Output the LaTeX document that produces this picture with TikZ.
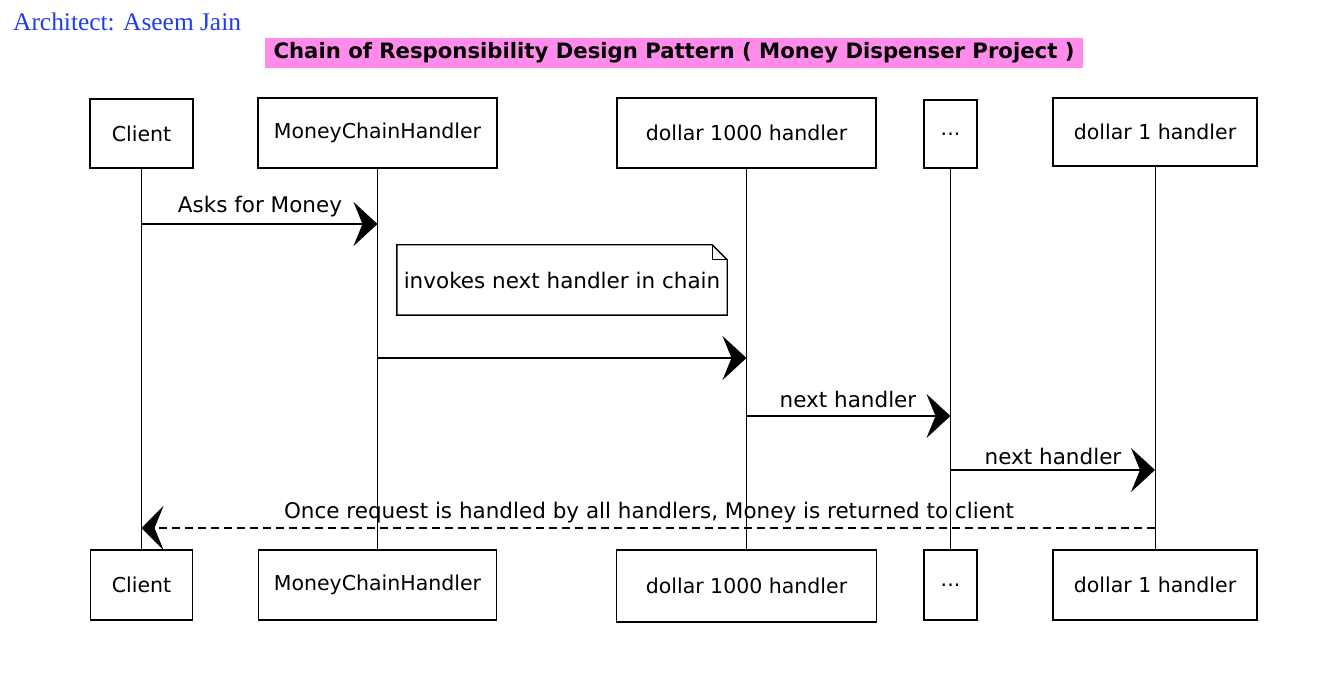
\documentclass[tikz,border=0pt]{standalone}
\usepackage{fontspec}
\setmainfont{DejaVu Sans}
\newfontfamily\archfont{Liberation Serif}
\usetikzlibrary{arrows.meta,calc}
\definecolor{archblue}{RGB}{30,60,240}
\definecolor{titlepink}{RGB}{255,140,235}
\begin{document}
\begin{tikzpicture}[x=1pt,y=-1pt,
  part/.style={draw, line width=1.4pt, inner sep=0pt, font=\fontsize{20.5}{24}\selectfont},
  life/.style={line width=1pt},
  msg/.style={line width=1.5pt, -{Stealth[length=24pt,width=44pt,inset=9pt]}},
  ret/.style={line width=1.5pt, dash pattern=on 8pt off 5pt, -{Stealth[length=22pt,width=44pt,inset=9pt]}},
  lbl/.style={font=\fontsize{21.5}{24}\selectfont, inner sep=0pt}]
\useasboundingbox (0,0) rectangle (1336,684);
% header
\node[anchor=base west, inner sep=0pt, text=archblue, font=\archfont\fontsize{25.4}{28}\selectfont] (arch) at (13,31) {Architect: Aseem Jain};
\node[fill=titlepink, minimum width=818pt, minimum height=30pt, inner sep=0pt, font=\bfseries\fontsize{21.2}{24}\selectfont] (title) at (674,53) {Chain of Responsibility Design Pattern ( Money Dispenser Project )};
% top participants
\node[part, minimum width=103pt, minimum height=69pt] (cT) at (141.5,133.5) {Client};
\node[part, minimum width=239pt, minimum height=70pt] (hT) at (377.5,133) {MoneyChainHandler};
\node[part, minimum width=259pt, minimum height=70pt] (kT) at (746.5,133) {dollar 1000 handler};
\node[part, minimum width=53pt, minimum height=68pt] (dT) at (950.5,134) {...};
\node[part, minimum width=204pt, minimum height=68pt] (oT) at (1155,132) {dollar 1 handler};
% bottom participants
\node[part, minimum width=102pt, minimum height=70pt] (cB) at (141.5,585) {Client};
\node[part, minimum width=238pt, minimum height=70pt] (hB) at (377.5,585) {MoneyChainHandler};
\node[part, minimum width=260pt, minimum height=72pt] (kB) at (746.5,586) {dollar 1000 handler};
\node[part, minimum width=53pt, minimum height=70pt] (dB) at (950.5,585) {...};
\node[part, minimum width=204pt, minimum height=70pt] (oB) at (1155,585) {dollar 1 handler};
% lifelines
\draw[life] (cT) -- (cB);
\draw[life] (hT) -- (hB);
\draw[life] (kT) -- (kB);
\draw[life] (dT) -- (dB);
\draw[life] (oT) -- (oB);
% message rows
\coordinate (r1) at (0,224);
\coordinate (r2) at (0,358);
\coordinate (r3) at (0,416);
\coordinate (r4) at (0,470);
\coordinate (r5) at (0,528);
\coordinate (m1a) at (cT.south |- r1);
\coordinate (m1b) at (hT.south |- r1);
\coordinate (m2a) at (hT.south |- r2);
\coordinate (m2b) at (kT.south |- r2);
\coordinate (m3a) at (kT.south |- r3);
\coordinate (m3b) at (dT.south |- r3);
\coordinate (m4a) at (dT.south |- r4);
\coordinate (m4b) at (oT.south |- r4);
\coordinate (m5a) at (oT.south |- r5);
\coordinate (m5b) at (cT.south |- r5);
\draw[msg] (m1a) -- (m1b);
\node[lbl] (l1) at (260,207) {Asks for Money};
% note
\node[minimum width=330pt, minimum height=70pt, inner sep=0pt, font=\fontsize{21.5}{24}\selectfont] (note) at (562,280) {invokes next handler in chain};
\draw[line width=1.4pt] (note.north west) -- ($(note.north east)+(-15,0)$) -- ($(note.north east)+(0,15)$) -- (note.south east) -- (note.south west) -- cycle;
\draw[line width=1pt] ($(note.north east)+(-15,0)$) -- ($(note.north east)+(-15,15)$) -- ($(note.north east)+(0,15)$);
\draw[msg] (m2a) -- (m2b);
\draw[msg] (m3a) -- (m3b);
\node[lbl] (l3) at (848,399) {next handler};
\draw[msg] (m4a) -- (m4b);
\node[lbl] (l4) at (1053,456) {next handler};
\draw[ret] (m5a) -- (m5b);
\node[lbl] (l5) at (649,513) {Once request is handled by all handlers, Money is returned to client};
\end{tikzpicture}
\end{document}
